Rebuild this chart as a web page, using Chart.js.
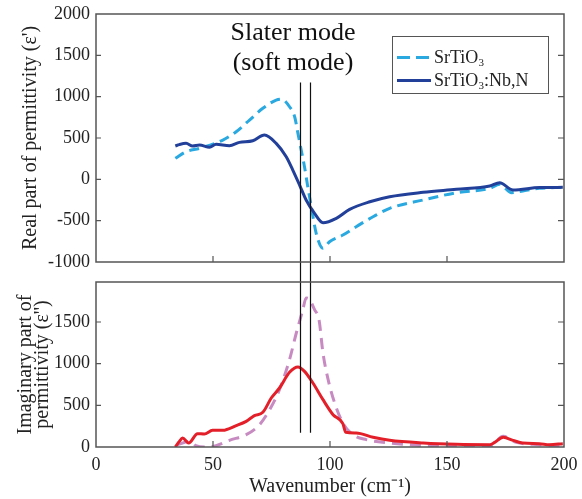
<!DOCTYPE html>
<html>
<head>
<meta charset="utf-8">
<script src="https://cdn.jsdelivr.net/npm/chart.js@4.4.1/dist/chart.umd.min.js"></script>
<style>
  html, body { margin: 0; padding: 0; background: #fff; }
  body { width: 582px; height: 499px; position: relative; overflow: hidden; font-family: "Liberation Serif", "Times New Roman", serif; }
  .wrap { position: absolute; left: 0; width: 582px; }
  #legend { position: absolute; left: 392px; top: 36px; width: 157px; height: 58px; border: 1px solid #555; background: #fff; box-sizing: border-box; font-size: 18px; color: #222; }
  .row { position: absolute; left: 2px; height: 22px; line-height: 22px; white-space: nowrap; }
  .row .sample { position: absolute; left: 2px; top: 10px; width: 34px; height: 3px; }
  .row .txt { position: absolute; left: 39px; top: 0; }
  sub { font-size: 11px; vertical-align: -3px; line-height: 0; }
  #slater { position: absolute; left: 193px; top: 17px; width: 200px; text-align: center; font-size: 26px; line-height: 30px; color: #111; }
</style>
</head>
<body>
<div class="wrap" style="top:0;height:272px"><canvas id="c1"></canvas></div>
<div class="wrap" style="top:272px;height:227px"><canvas id="c2"></canvas></div>
<div id="slater">Slater mode<br>(soft mode)</div>
<div id="legend">
  <div class="row" style="top:9px"><div class="sample" style="background:repeating-linear-gradient(90deg,#2aa9e1 0 13px,transparent 13px 19px);"></div><div class="txt">SrTiO<sub>3</sub></div></div>
  <div class="row" style="top:32px"><div class="sample" style="background:#22409a;"></div><div class="txt">SrTiO<sub>3</sub>:Nb,N</div></div>
</div>
<script>
// ---- data ----
const xTicks = [0, 50, 100, 150, 200];
const realTicks = [-1000, -500, 0, 500, 1000, 1500, 2000];
const imagTicks = [0, 500, 1000, 1500];

const stoRealX = [33.9,38.5,44.2,54.2,59.9,65.6,71.3,77.0,79.2,82.7,84.9,86.3,87.7,89.1,90.5,92.0,94.1,97.0,99.8,105.5,111.2,118.4,125.5,139.8,154.0,168.3,172.5,177.6,182.4,189.5,199.5];
const stoReal  = [254,334,375,475,576,717,859,959,970,878,757,556,354,152,-90,-331,-653,-835,-755,-674,-573,-452,-351,-250,-162,-109,-60,-162,-140,-109,-97];

const nbRealX = [33.9,35.6,38.5,41.3,44.2,48.5,51.3,57.0,61.3,67.0,72.0,77.0,81.3,84.1,87.0,89.8,93.4,97.0,102.7,108.4,117.0,125.5,139.8,154.0,168.3,172.5,178.2,189.5,199.5];
const nbReal  = [403,420,435,403,415,387,424,407,447,467,536,435,273,112,-69,-250,-411,-525,-472,-363,-271,-210,-157,-121,-81,-41,-129,-100,-97];

const nbImagX = [33.9,35.6,37.0,39.6,43.4,46.3,49.8,54.2,59.9,64.2,67.7,71.3,74.9,78.4,82.7,86.3,89.1,92.7,97.0,101.3,105.5,106.7,111.2,118.4,125.5,139.8,154.0,168.3,170.4,174.0,178.2,182.4,189.5,193.8,199.5];
const nbImag  = [0,67,108,48,160,156,200,200,256,308,376,416,588,708,896,960,908,768,568,388,280,176,168,116,80,48,32,28,56,116,80,48,40,28,40];

const stoImagX = [34.9,39.9,42.7,46.3,51.3,57.0,64.2,69.9,74.2,78.4,82.7,85.6,88.4,89.8,91.3,93.4,95.3,97.0,99.2,102.0,105.5,109.8,115.5,125.5,139.8,154.0,168.3,174.0,179.6,189.5,199.5];
const stoImag  = [28,67,16,0,16,80,148,268,448,688,1048,1368,1648,1788,1768,1648,1528,1128,808,528,288,148,88,48,16,8,8,128,56,28,8];

// Slater (soft) mode marker lines
const modeLineX = [87.0, 91.3];
const modeLineRealFrom = 1170;   // top end in real-part units
const modeLineImagTo = 172;      // bottom end in imaginary-part units

const pts = (xs, ys) => xs.map((x, i) => ({ x, y: ys[i] }));

const FONT = "'Liberation Serif', 'Times New Roman', serif";
const tickFont = { family: FONT, size: 18 };

const framePlugin = {
  id: 'frame',
  afterDraw(chart) {
    const { ctx, chartArea: a } = chart;
    const xs = chart.scales.x, ys = chart.scales.y;
    ctx.save();
    ctx.strokeStyle = '#555';
    ctx.lineWidth = 1.5;
    ctx.strokeRect(a.left, a.top, a.right - a.left, a.bottom - a.top);
    ctx.lineWidth = 1.2;
    ctx.beginPath();
    ys.ticks.forEach(t => {
      const p = ys.getPixelForValue(t.value);
      if (p <= a.top + 1 || p >= a.bottom - 1) return;
      ctx.moveTo(a.left, p); ctx.lineTo(a.left + 5, p);
      ctx.moveTo(a.right, p); ctx.lineTo(a.right - 6, p);
    });
    xTicks.forEach(v => {
      const p = xs.getPixelForValue(v);
      if (p <= a.left + 1 || p >= a.right - 1) return;
      ctx.moveTo(p, a.bottom); ctx.lineTo(p, a.bottom - 6);
    });
    ctx.stroke();
    ctx.restore();
  }
};

function modeLinePlugin(getRange) {
  return {
    id: 'modeLines',
    afterDatasetsDraw(chart) {
      const { ctx } = chart;
      const xs = chart.scales.x;
      const [y0, y1] = getRange(chart);
      ctx.save();
      ctx.strokeStyle = '#111';
      ctx.lineWidth = 1.2;
      ctx.beginPath();
      modeLineX.forEach(v => {
        const p = Math.round(xs.getPixelForValue(v)) + 0.5;
        ctx.moveTo(p, y0); ctx.lineTo(p, y1);
      });
      ctx.stroke();
      ctx.restore();
    }
  };
}

function xScale(show) {
  return {
    type: 'linear', min: 0, max: 200, display: show,
    grid: { display: false, drawTicks: false },
    border: { display: false },
    afterBuildTicks: s => { s.ticks = xTicks.map(v => ({ value: v })); },
    ticks: { font: tickFont, color: '#222', padding: 7, maxRotation: 0, callback: v => String(v) },
    title: { display: show, text: 'Wavenumber (cm⁻¹)', font: { family: FONT, size: 20 }, color: '#222', padding: { top: 0, bottom: 0 } },
    afterFit: s => { if (show) s.height = 52; s.paddingLeft = 0; s.paddingRight = 0; }
  };
}

function yScale(min, max, tickVals, titleText, titlePad, lineHeight) {
  return {
    type: 'linear', min, max,
    grid: { display: false, drawTicks: false },
    border: { display: false },
    afterBuildTicks: s => { s.ticks = tickVals.map(v => ({ value: v })); },
    ticks: { font: tickFont, color: '#222', padding: 6, callback: v => String(v) },
    title: { display: true, text: titleText, font: { family: FONT, size: 20, lineHeight }, color: '#222', padding: { top: titlePad, bottom: 0 } },
    afterFit: s => { s.width = 96; s.paddingTop = 0; s.paddingBottom = 0; }
  };
}

const common = {
  responsive: true, maintainAspectRatio: false, animation: false,
  plugins: { legend: { display: false }, tooltip: { enabled: false } },
  elements: { point: { radius: 0 }, line: { cubicInterpolationMode: 'monotone' } }
};

new Chart(document.getElementById('c1'), {
  type: 'line',
  data: {
    datasets: [
      { label: 'SrTiO3:Nb,N', data: pts(nbRealX, nbReal), borderColor: '#22409a', borderWidth: 3, fill: false },
      { label: 'SrTiO3', data: pts(stoRealX, stoReal), borderColor: '#2aa9e1', borderWidth: 3, borderDash: [10, 6], fill: false }
    ]
  },
  options: Object.assign({}, common, {
    layout: { padding: { left: 0, right: 18, top: 14, bottom: 10 } },
    scales: {
      x: xScale(false),
      y: yScale(-1000, 2000, realTicks, "Real part of permittivity (ε')", 19, 1.2)
    }
  }),
  plugins: [framePlugin, modeLinePlugin(ch => [ch.scales.y.getPixelForValue(modeLineRealFrom), ch.height])]
});

new Chart(document.getElementById('c2'), {
  type: 'line',
  data: {
    datasets: [
      { label: "SrTiO3:Nb,N ε''", data: pts(nbImagX, nbImag), borderColor: '#e3202a', borderWidth: 3, fill: false },
      { label: "SrTiO3 ε''", data: pts(stoImagX, stoImag), borderColor: '#c78bc2', borderWidth: 3, borderDash: [11, 7], fill: false }
    ]
  },
  options: Object.assign({}, common, {
    layout: { padding: { left: 0, right: 18, top: 10, bottom: 0 } },
    scales: {
      x: xScale(true),
      y: yScale(0, 1980, imagTicks, ['Imaginary part of', "permittivity (ε'')"], 17, 0.85)
    }
  }),
  plugins: [framePlugin, modeLinePlugin(ch => [0, ch.scales.y.getPixelForValue(modeLineImagTo)])]
});
</script>
</body>
</html>
